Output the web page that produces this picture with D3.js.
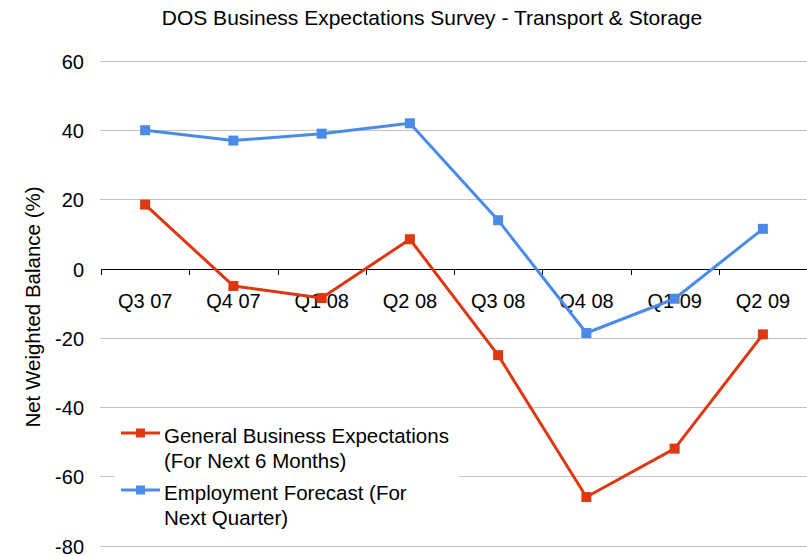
<!doctype html>
<html>
<head>
<meta charset="utf8">
<title>DOS Business Expectations Survey</title>
<script src="https://cdn.jsdelivr.net/npm/d3@7"></script>
<style>
  body { margin: 0; background: #fff; }
  svg { font-family: "Liberation Sans", Arial, sans-serif; }
</style>
</head>
<body>
<div id="board"></div>
<script>
"use strict";
const quarters = ["Q3 07", "Q4 07", "Q1 08", "Q2 08", "Q3 08", "Q4 08", "Q1 09", "Q2 09"];
const generalBiz = [18.5, -5, -8.5, 8.5, -25, -66, -52, -19];
const employment = [40, 37, 39, 42, 14, -18.6, -8.7, 11.5];
const yTicks = [60, 40, 20, 0, -20, -40, -60, -80];
const seriesNames = [
    ["General Business Expectations", "(For Next 6 Months)"],
    ["Employment Forecast (For", "Next Quarter)"]
];
const colors = ["#dd3812", "#4a8be9"];

const _width = 807, _height = 556;
const plotLeft = 101, plotRight = 807, plotTop = 61, plotBottom = 545.5;

var svg = d3.select("#board").append("svg")
    .attr("width", _width).attr("height", _height);

var x = d3.scaleBand().domain(quarters).range([plotLeft, plotRight]);
var y = d3.scaleLinear().domain([-80, 60]).range([plotBottom, plotTop]);

// title
svg.append("text")
    .attr("x", 432).attr("y", 25)
    .attr("text-anchor", "middle")
    .attr("font-size", 21)
    .text("DOS Business Expectations Survey - Transport & Storage");

// gridlines
svg.append("g").selectAll("line")
    .data(yTicks.filter(d => d !== 0))
    .enter().append("line")
    .attr("x1", plotLeft - 1).attr("x2", plotRight)
    .attr("y1", d => Math.round(y(d)) + 0.5)
    .attr("y2", d => Math.round(y(d)) + 0.5)
    .attr("stroke", "#c4c4c4").attr("stroke-width", 1);

// y labels
svg.append("g").selectAll("text")
    .data(yTicks)
    .enter().append("text")
    .attr("x", 84).attr("y", d => y(d) + 8)
    .attr("text-anchor", "end")
    .attr("font-size", 20)
    .text(d => d);

svg.append("text")
    .attr("transform", "translate(40,307) rotate(-90)")
    .attr("text-anchor", "middle")
    .attr("font-size", 20.5)
    .text("Net Weighted Balance (%)");

// x axis at zero
var xAxis = d3.axisBottom(x).tickSize(0).tickFormat(d => d);
var axisG = svg.append("g")
    .attr("transform", "translate(0," + Math.round(y(0)) + ")")
    .call(xAxis);
axisG.select(".domain").remove();
axisG.append("line")
    .attr("x1", plotLeft).attr("x2", plotRight)
    .attr("y1", 0.5).attr("y2", 0.5)
    .attr("stroke", "#000");
axisG.selectAll(".bnd")
    .data(quarters)
    .enter().append("line")
    .attr("x1", d => Math.round(x(d)) + 0.5)
    .attr("x2", d => Math.round(x(d)) + 0.5)
    .attr("y1", 0).attr("y2", 6)
    .attr("stroke", "#000");
axisG.selectAll(".tick text")
    .attr("y", 39).attr("dy", 0)
    .attr("font-size", 20)
    .attr("font-family", "\"Liberation Sans\", Arial, sans-serif")
    .attr("fill", "#000");

// series
var line = d3.line()
    .x((d, i) => x(quarters[i]) + x.bandwidth() / 2)
    .y(d => y(d));

[generalBiz, employment].forEach((vals, k) => {
    svg.append("path")
        .datum(vals)
        .attr("d", line)
        .attr("fill", "none")
        .attr("stroke", colors[k])
        .attr("stroke-width", 3)
        .attr("stroke-linejoin", "round");
    svg.append("g").selectAll("rect")
        .data(vals)
        .enter().append("rect")
        .attr("x", (d, i) => x(quarters[i]) + x.bandwidth() / 2 - 5)
        .attr("y", d => y(d) - 5)
        .attr("width", 10).attr("height", 10)
        .attr("fill", colors[k]);
});

// legend
var leg = svg.append("g");
leg.append("rect")
    .attr("x", 115).attr("y", 420)
    .attr("width", 344).attr("height", 110)
    .attr("fill", "#fff");
seriesNames.forEach((lines, k) => {
    var cy = 433 + k * 57;
    leg.append("line")
        .attr("x1", 121).attr("x2", 160)
        .attr("y1", cy).attr("y2", cy)
        .attr("stroke", colors[k]).attr("stroke-width", 3);
    leg.append("rect")
        .attr("x", 136).attr("y", cy - 4.5)
        .attr("width", 9).attr("height", 9)
        .attr("fill", colors[k]);
    lines.forEach((t, j) => {
        leg.append("text")
            .attr("x", 164).attr("y", cy + 10 + j * 25)
            .attr("font-size", 20.5)
            .text(t);
    });
});
</script>
</body>
</html>
